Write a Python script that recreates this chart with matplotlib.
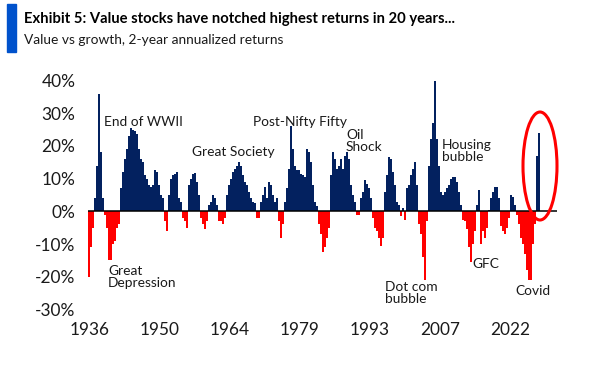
import matplotlib
matplotlib.use("Agg")
import matplotlib.pyplot as plt
from matplotlib.patches import Ellipse, Rectangle
import numpy as np

# value minus growth, 2-year annualized return (%)
returns = [
    -20, -11, -5, 4, 14, 36, 18, 4, -1, -5, -15, -15, -10, -9, -5, -4,
    7, 12, 16, 19, 23, 25.5, 25, 24.5, 23.5, 19, 16, 15, 11, 10, 8, 7.5,
    8, 12.5, 12, 8, 5, 4, -3, -6, 5, 10, 11, 11.5, 12, 4, 3, -2,
    -3, -5, 8, 10, 11.5, 11.7, 9, 5, -2, -4, -5.5, -3, 2, 3, 5, 4,
    2, -3, -3, -4, -2, 5, 8, 10, 12, 13, 14, 15, 14, 11, 9, 8,
    6, 4, 3, 2.5, -2, -2, 3, 5, 7.5, 4, 9, 8, 5, 3, 4, -3,
    -8, -4, 3, 7, 13, 26, 19, 14, 12.5, 12.5, 11.5, 11, 10.5, 19, 18, 15,
    8, 3, 1.5, -4, -7, -12.5, -11, -8, -5, 11, 18, 16, 13, 14, 16, 13,
    17, 18, 16, 8, 5, 3, -1, -1, 4, 6, 9.5, 8.5, 7, 4, -2, -5,
    -6, -8, -10.7, -8, 6, 11, 16.5, 16, 12, 8, 3, 2, -1.5, 1, -2.5, 7,
    8, 11, 13, 15, 8, -4, -7, -14, -21, -3, 14, 22, 27, 40, 22, 14,
    6, 5, 6, 7, 8, 10, 10.5, 10.5, 9, 6, 2, -2.5, -3, -5.5, -11, -15.5,
    -10, -6, 2, 6.5, -10, -6, -8, -5, 0.5, 4, 6, 7.5, 7.5, 4, -4.5, -6,
    -7, -5, -2, 5, 4.5, 2, -1, -4, -8, -10, -13, -18, -21, -21, -10, -4,
    17, 24,
]
year_labels = ["1936", "1950", "1964", "1979", "1993", "2007", "2022"]
label_step = 35  # category axis shows a label every 35 bars

events = [
    ("End of WWII", 104, 122),
    ("Great\nDepression", 108, 277),
    ("Great Society", 192, 152),
    ("Post-Nifty Fifty", 253, 122),
    ("Oil\nShock", 346, 141),
    ("Dot com\nbubble", 385, 293),
    ("Housing\nbubble", 442, 151),
    ("GFC", 472, 264),
    ("Covid", 515, 291),
]

NAVY = "#03215F"
RED = "#FF0000"
TXT = "#1a1a1a"
W, H = 614, 366

plt.rcParams["font.family"] = ["Lato", "DejaVu Sans"]

fig = plt.figure(figsize=(W / 100, H / 100), dpi=100)
renderer = fig.canvas.get_renderer()


def fx(px):
    return px / W


def fy(py):
    return 1 - py / H


def size_for(text, target_px, weight="normal"):
    # font size that makes `text` about target_px wide
    t = fig.text(0, 0, text, fontsize=10, fontweight=weight)
    w = t.get_window_extent(renderer).width
    t.remove()
    return 10 * target_px / w


tick_fs = size_for("1936", 40)
note_fs = size_for("Great Society", 82)

# axes placed so that zero sits at y=211.5 px and 10% spans ~32.7 px
ax = fig.add_axes([fx(88), fy(316), fx(557 - 88), (316 - 74) / H])

vals = np.array(returns)
idx = np.arange(len(vals))
colors = [NAVY if v >= 0 else RED for v in vals]
ax.bar(idx, vals, width=1.0, color=colors, linewidth=0, zorder=2)
ax.axhline(0, color="black", lw=1.1, zorder=3)

ax.set_xlim(-0.5, 234)
ax.set_ylim(-32, 42)
ax.set_yticks(np.arange(-30, 41, 10))
ax.set_yticklabels([f"{t}%" for t in range(-30, 41, 10)])
ax.set_xticks(np.arange(len(year_labels)) * label_step + 0.5)
ax.set_xticklabels(year_labels)
ax.tick_params(axis="y", length=0, pad=9, labelsize=tick_fs, labelcolor=TXT)
ax.tick_params(axis="x", length=0, pad=4, labelsize=tick_fs, labelcolor=TXT)
for s in ax.spines.values():
    s.set_visible(False)

for txt, px, py in events:
    fig.text(fx(px), fy(py), txt, fontsize=note_fs, color=TXT,
             ha="left", va="center", linespacing=1.0)

# red circle around the latest spike
fig.patches.append(Ellipse((fx(540), fy(166)), fx(34), 108 / H,
                           transform=fig.transFigure, fill=False,
                           edgecolor=RED, lw=2.2))

# header
title = "Exhibit 5: Value stocks have notched highest returns in 20 years..."
subtitle = "Value vs growth, 2-year annualized returns"
fig.patches.append(Rectangle((fx(7), fy(52)), fx(9), 48 / H,
                             transform=fig.transFigure, color="#0052CC"))
fig.text(fx(24), fy(19), title, fontsize=size_for(title, 432, "bold"),
         fontweight="bold", color="black", ha="left", va="center")
fig.text(fx(24), fy(40), subtitle, fontsize=size_for(subtitle, 258),
         color=TXT, ha="left", va="center")

fig.savefig("out.png", dpi=100)
